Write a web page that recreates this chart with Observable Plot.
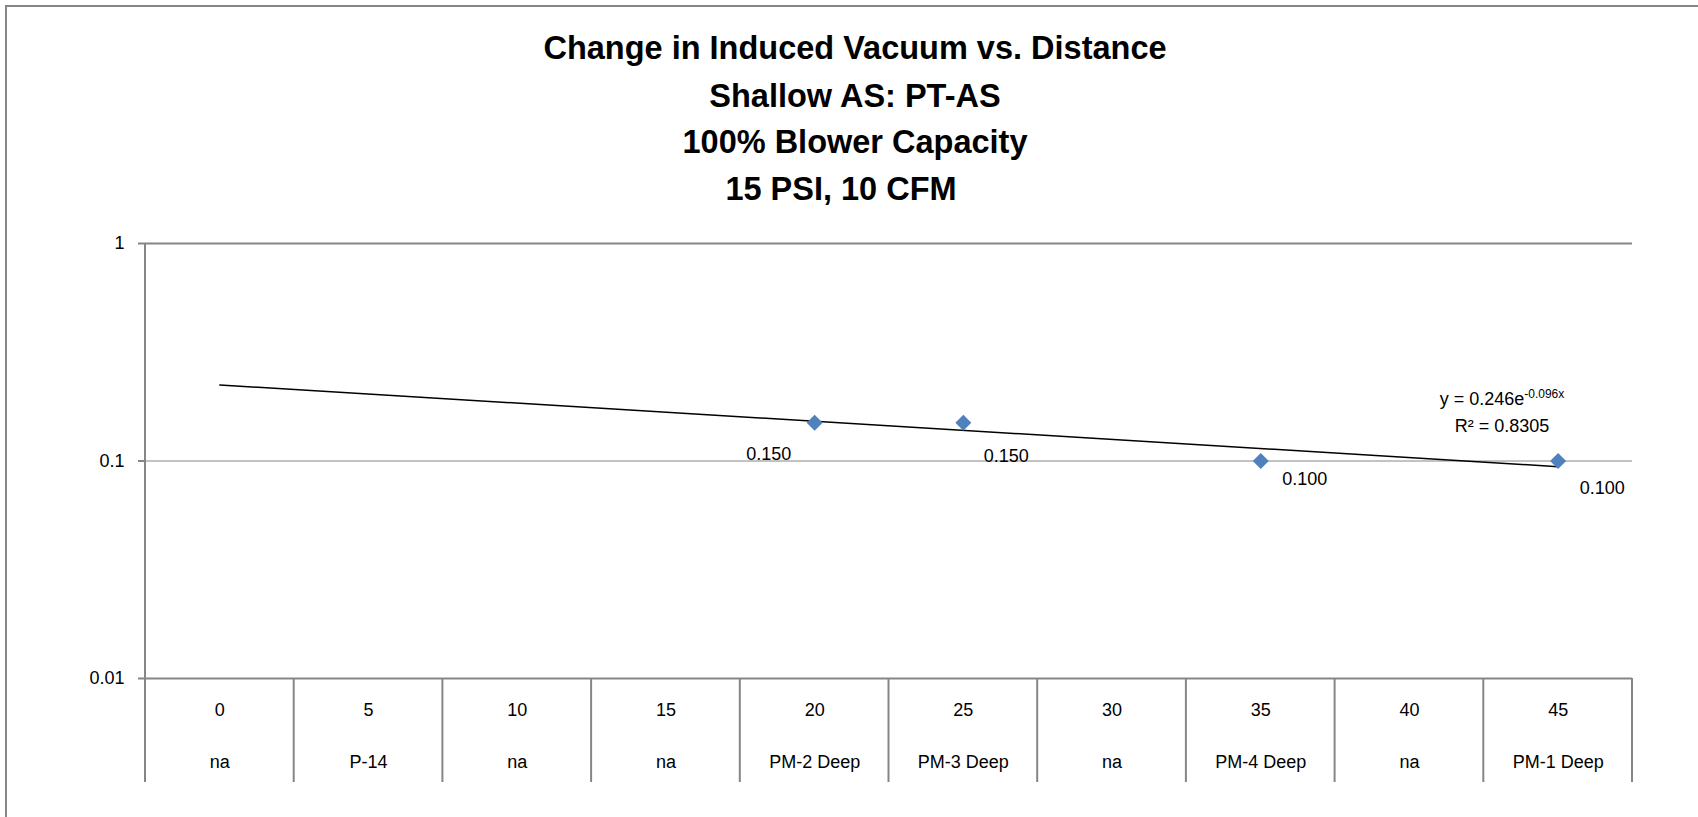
<!DOCTYPE html>
<html><head><meta charset="utf-8">
<script src="https://cdn.jsdelivr.net/npm/d3@7"></script>
<script src="https://cdn.jsdelivr.net/npm/@observablehq/plot@0.6"></script>
<style>
html,body{margin:0;padding:0;background:#fff;}
#chart{width:1698px;height:817px;overflow:hidden;position:relative;}
</style></head><body><div id="chart"></div>
<script>
// ---- data ----
const titleLines = ["Change in Induced Vacuum vs. Distance", "Shallow AS: PT-AS", "100% Blower Capacity", "15 PSI, 10 CFM"];
const distances = [0, 5, 10, 15, 20, 25, 30, 35, 40, 45];
const wells = ["na", "P-14", "na", "na", "PM-2 Deep", "PM-3 Deep", "na", "PM-4 Deep", "na", "PM-1 Deep"];
const pointDistances = [20, 25, 35, 45];
const vacuum = [0.150, 0.150, 0.100, 0.100];
const yTicks = [0.01, 0.1, 1];
const trendDistances = [0, 45];
const trendValues = [0.2235, 0.0942];
const equationBase = "y = 0.246e";
const equationExp = "-0.096x";
const rSquared = "R² = 0.8305";

// ---- style ----
const FONT = "'Liberation Sans', Arial, sans-serif";
const GRAY = "#868686";
const labelOffsets = [[-46, 32], [43, 34], [44, 18], [44, 27]];

const points = pointDistances.map((d, i) => ({distance: d, value: vacuum[i]}));
const cats = distances.map((d, i) => ({distance: d, well: wells[i]}));
const trend = trendDistances.map((d, i) => ({distance: d, value: trendValues[i]}));

const plot = Plot.plot({
  width: 1698, height: 817,
  marginLeft: 145, marginRight: 66, marginTop: 243, marginBottom: 139,
  style: {fontFamily: FONT, fontSize: "18px", color: "#000", background: "#fff", overflow: "visible"},
  x: {type: "band", domain: distances, padding: 0, round: false, axis: null},
  y: {type: "log", domain: [0.01, 1], axis: null},
  marks: [
    Plot.ruleY([0.1], {stroke: GRAY, strokeWidth: 1}),
    Plot.ruleY([0.01, 1], {stroke: GRAY, strokeWidth: 2}),
    Plot.axisY({ticks: yTicks, tickFormat: d => String(d), tickSize: 7, tickPadding: 14, stroke: GRAY, strokeWidth: 2, fill: "#000", fontSize: 18, anchor: "left", label: null}),
    Plot.line(trend, {x: "distance", y: "value", stroke: "#000", strokeWidth: 1.5}),
    Plot.dot(points, {x: "distance", y: "value", symbol: "diamond2", r: 7.2, fill: "#4F81BD"}),
    ...points.map((p, i) => Plot.text([p], {x: "distance", y: "value", text: d => d.value.toFixed(3), dx: labelOffsets[i][0], dy: labelOffsets[i][1], fontSize: 18, fill: "#000"})),
    Plot.text(cats, {x: "distance", text: d => String(d.distance), frameAnchor: "bottom", dy: 37, fontSize: 18, fill: "#000"}),
    Plot.text(cats, {x: "distance", text: "well", frameAnchor: "bottom", dy: 89, fontSize: 18, fill: "#000"})
  ]
});

const svg = d3.select(plot);
const xs = plot.scale("x");
const ys = plot.scale("y");
const bw = xs.bandwidth;
const edges = distances.map(d => xs.apply(d)).concat([xs.apply(distances[distances.length - 1]) + bw]);
const yBottom = ys.apply(0.01), yTop = ys.apply(1);

// outer chart border
svg.insert("path", ":first-child")
  .attr("d", "M6,830V6H1698")
  .attr("fill", "none").attr("stroke", GRAY).attr("stroke-width", 2);

// category separators below the axis
const sep = svg.append("g").attr("stroke", GRAY).attr("stroke-width", 2);
edges.forEach((x, i) => {
  sep.append("line").attr("x1", x).attr("x2", x)
    .attr("y1", i === 0 ? yTop : yBottom).attr("y2", yBottom + 104);
});

// title
const tg = svg.append("g").attr("font-family", FONT).attr("font-weight", "bold")
  .attr("font-size", 32.5).attr("text-anchor", "middle").attr("fill", "#000");
const titleX = [855, 855, 855, 841];
const titleY = [59, 107, 153, 200];
titleLines.forEach((t, i) => tg.append("text").attr("x", titleX[i]).attr("y", titleY[i]).text(t));

// trendline equation
const eq = svg.append("g").attr("font-family", FONT).attr("fill", "#000").attr("text-anchor", "middle");
const t1 = eq.append("text").attr("x", 1502).attr("y", 405).attr("font-size", 18);
t1.append("tspan").text(equationBase);
t1.append("tspan").attr("font-size", 12).attr("dy", -7).text(equationExp);
eq.append("text").attr("x", 1502).attr("y", 431.5).attr("font-size", 18).text(rSquared);

document.getElementById("chart").appendChild(plot);
</script>
</body></html>
